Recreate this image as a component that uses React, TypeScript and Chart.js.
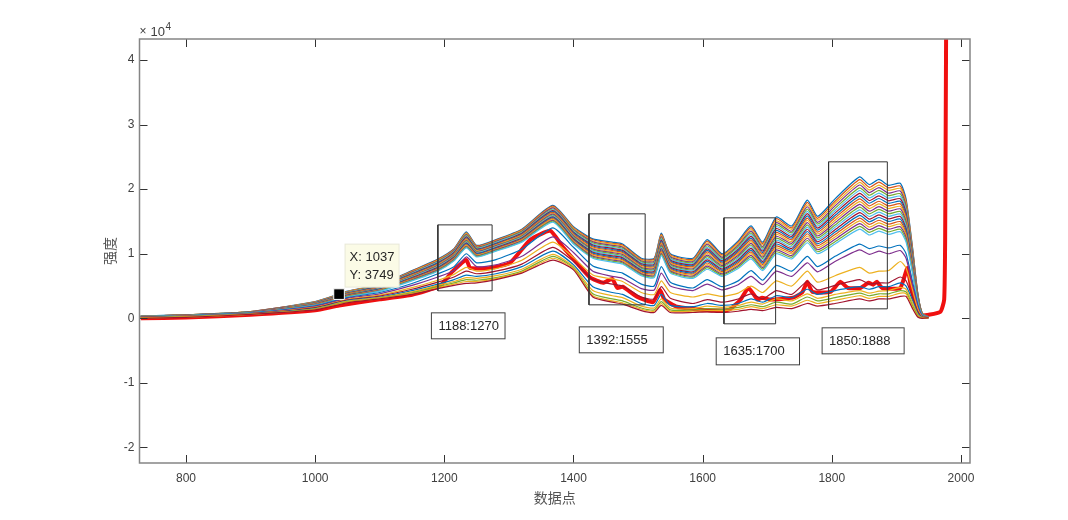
import React, { useEffect, useRef } from "react";
import { Chart, registerables } from "chart.js";

Chart.register(...registerables);

const xTicks = [800, 1000, 1200, 1400, 1600, 1800, 2000];
const yTicks = [-20000, -10000, 0, 10000, 20000, 30000, 40000];

const sampleX = [730,800,900,1000,1050,1100,1150,1190,1215,1234,1250,1280,1320,1368,1400,1430,1460,1476,1505,1525,1536,1550,1585,1607,1630,1655,1675,1693,1714,1738,1762,1778,1805,1843,1858,1873,1888,1906,1915,1925,1933,1940,1950];

// upper, densely packed spectra
const b00 = [350,550,1050,2600,4200,5300,7400,9200,10800,13400,11300,12200,13800,17500,14200,12300,11800,11500,9300,9300,13200,10000,9300,12200,10000,12000,14300,11800,15700,14300,18300,15800,18500,21900,20700,21500,20600,20900,18500,11000,4000,800,200];
const b01 = [345,540,1040,2570,4150,5240,7320,9100,10720,13250,11230,12100,13700,17380,14050,12160,11620,11350,9150,9160,13000,9860,9130,11950,9830,11780,14050,11560,15420,14010,17960,15490,18130,21480,20280,21100,20200,20500,18140,10790,3930,780,200];
const b02 = [340,535,1030,2540,4110,5180,7230,9000,10600,13150,11100,12000,13580,17210,13930,11970,11490,11170,9020,8970,12850,9680,8980,11700,9620,11560,13750,11350,15080,13780,17590,15200,17780,21040,19880,20640,19810,20120,17800,10570,3850,770,190];
const b03 = [335,530,1015,2500,4050,5130,7150,8890,10510,13000,11020,11920,13480,17090,13770,11840,11300,11020,8870,8830,12640,9530,8800,11480,9450,11310,13510,11090,14800,13490,17280,14870,17410,20640,19460,20250,19380,19720,17430,10370,3780,750,190];
const b04 = [330,522,1000,2470,4020,5070,7060,8800,10380,12870,10920,11800,13390,16930,13650,11660,11160,10840,8740,8660,12480,9350,8650,11240,9260,11100,13220,10880,14500,13240,16900,14590,17030,20200,19060,19820,19000,19300,17090,10150,3700,740,190];
const b05 = [325,515,990,2440,3960,5010,6980,8700,10300,12740,10820,11730,13270,16810,13480,11510,10980,10700,8590,8510,12270,9210,8480,10990,9070,10860,12960,10640,14200,12950,16550,14270,16650,19790,18640,19400,18600,18920,16740,9940,3630,720,185];
const b06 = [320,508,975,2410,3920,4950,6900,8600,10190,12610,10730,11620,13170,16680,13350,11360,10820,10520,8440,8350,12100,9040,8320,10750,8900,10650,12700,10410,13900,12700,16220,13970,16290,19340,18240,18970,18200,18530,16380,9730,3560,700,180];
const b07 = [315,500,965,2375,3870,4900,6810,8510,10090,12480,10640,11540,13060,16550,13200,11200,10660,10360,8300,8190,11930,8890,8170,10520,8710,10420,12420,10180,13600,12430,15870,13660,15920,18920,17820,18550,17810,18130,16030,9520,3480,690,180];
const b08 = [310,495,950,2345,3820,4840,6730,8400,10000,12350,10540,11440,12960,16410,13060,11040,10500,10200,8170,8030,11730,8730,8000,10280,8530,10190,12150,9950,13300,12160,15520,13360,15560,18490,17410,18130,17400,17740,15680,9310,3410,670,175];
const b09 = [305,487,940,2310,3770,4780,6650,8300,9900,12210,10450,11350,12850,16270,12920,10880,10330,10030,8020,7880,11540,8580,7830,10040,8340,9970,11880,9720,13000,11890,15180,13060,15190,18060,17000,17710,17000,17340,15330,9100,3330,660,175];
const b10 = [300,480,925,2280,3730,4720,6560,8200,9800,12080,10350,11250,12750,16130,12780,10720,10170,9870,7880,7720,11360,8420,7670,9780,8160,9740,11620,9480,12700,11620,14830,12750,14820,17640,16590,17290,16600,16950,14970,8890,3260,640,170];
const b11 = [295,475,915,2250,3680,4660,6480,8100,9700,11950,10260,11150,12650,15990,12640,10560,10010,9700,7740,7560,11180,8260,7510,9540,7980,9510,11350,9250,12400,11350,14480,12450,14450,17210,16180,16870,16200,16550,14620,8680,3190,630,170];
const b12 = [290,468,900,2215,3630,4600,6390,8000,9600,11820,10170,11060,12540,15860,12490,10400,9840,9540,7590,7410,10990,8100,7350,9300,7790,9290,11080,9020,12100,11080,14130,12140,14090,16790,15770,16450,15800,16160,14270,8470,3110,610,165];
const b13 = [285,460,890,2185,3590,4540,6310,7900,9500,11690,10070,10960,12440,15720,12350,10240,9680,9380,7450,7250,10810,7950,7180,9060,7610,9060,10820,8790,11800,10810,13790,11840,13720,16360,15360,16030,15400,15770,13910,8260,3040,590,165];
const b14 = [280,452,880,2150,3540,4490,6220,7800,9400,11560,9980,10860,12330,15580,12210,10090,9520,9210,7310,7090,10620,7790,7020,8810,7430,8830,10550,8560,11500,10540,13440,11530,13350,15930,14950,15610,15000,15370,13560,8050,2960,580,160];
const b15 = [275,445,865,2120,3490,4430,6140,7700,9300,11420,9880,10770,12230,15440,12070,9930,9360,9050,7170,6930,10440,7630,6860,8570,7240,8610,10280,8320,11200,10270,13090,11230,12980,15510,14540,15190,14600,14980,13200,7840,2890,560,160];
const b16 = [270,440,855,2090,3440,4370,6060,7600,9200,11290,9790,10680,12120,15310,11930,9770,9190,8890,7020,6770,10260,7470,6700,8330,7060,8380,10010,8090,10900,10000,12750,10920,12610,15080,14130,14770,14200,14590,12850,7630,2820,550,155];
const b17 = [265,433,845,2060,3400,4320,5980,7500,9100,11160,9690,10590,12010,15180,11790,9610,9030,8730,6880,6620,10070,7320,6530,8090,6870,8150,9740,7860,10600,9730,12400,10620,12240,14660,13720,14350,13800,14190,12490,7420,2740,530,155];
const b18 = [260,427,840,2030,3350,4260,5890,7400,9000,11030,9600,10490,11910,15040,11650,9450,8870,8560,6740,6460,9890,7160,6370,7850,6690,7930,9470,7630,10300,9470,12050,10310,11870,14230,13310,13930,13400,13790,12140,7210,2670,510,150];
const b19 = [250,420,830,2000,3300,4200,5800,7300,8900,10900,9500,10400,11800,14900,11500,9300,8700,8400,6600,6300,9700,7000,6200,7600,6500,7700,9200,7400,10000,9200,11700,10000,11500,13800,12900,13500,13000,13400,11800,7000,2600,500,150];
const upperBand = [b19,b18,b17,b16,b15,b14,b13,b12,b11,b10,b09,b08,b07,b06,b05,b04,b03,b02,b01,b00];

// lower, widely spaced spectra
const l1 = [230,400,800,1950,3200,4000,5400,6900,8000,10000,8600,9100,10700,14000,11000,8100,7300,7000,5300,5000,8000,5600,4700,6000,4900,5800,7400,5900,8200,7300,9600,8000,9600,11500,10800,11200,10900,11300,10000,5700,2200,400,140];
const l2 = [200,370,770,1850,3100,3800,5100,6400,7400,9500,8000,8300,9600,12600,10200,7300,6500,6200,4600,4400,7000,5000,4300,5300,4400,5200,6500,5200,7300,6500,8600,7200,8800,10600,9900,10400,10000,10500,9300,5200,1900,350,130];
const l3 = [170,340,740,1750,2950,3600,4750,5900,6800,7900,7300,7700,9000,11800,9400,6700,6100,5700,4000,3700,5800,4000,3300,3800,3400,3900,5000,4000,5800,5000,7300,5600,6600,7900,7000,7300,7400,8800,7800,4400,1500,280,120];
const l4 = [140,310,710,1650,2850,3450,4500,5600,6400,7300,6900,7300,8400,11000,8800,6000,5300,5000,3300,3000,4900,3100,2300,2900,2500,3000,3800,3000,4300,3700,5700,4400,5100,6000,5300,5500,5500,6400,5800,3200,1100,200,110];
const l5 = [110,280,680,1550,2750,3300,4300,5300,6000,6700,6500,6900,8000,10400,8300,4900,4000,3700,2300,2000,3700,2000,1800,2300,2000,2300,3000,2500,3500,3200,4500,3700,4300,4900,4500,4900,4900,5500,5000,2800,800,150,100];
const l6 = [80,250,650,1480,2650,3200,4100,5100,5700,6300,6200,6600,7600,9900,8000,4300,3500,3200,1900,1600,3000,1600,1500,1900,1700,2000,2500,2200,3000,2700,3800,3100,3700,4300,3900,4200,4300,4800,4500,2400,600,100,100];
const l7 = [50,220,630,1430,2550,3100,3950,4900,5500,6000,5900,6300,7300,9600,7800,3800,3000,2700,1600,1300,2600,1300,1300,1500,1400,1700,2100,1800,2500,2200,3300,2700,3200,3900,3500,3800,3800,4300,4100,2000,400,60,100];
const l8 = [20,180,610,1370,2480,3050,3820,4750,5300,5700,5700,6150,7150,9300,7650,3500,2700,2400,1400,1100,2300,1100,1100,1200,1200,1400,1800,1500,2100,1900,2800,2300,2800,3500,3100,3400,3400,3900,3800,1700,300,30,100];
const l9 = [0,150,600,1300,2400,3000,3700,4600,5100,5400,5500,6000,7000,9000,7500,3300,2500,2200,1200,900,2000,900,900,1000,900,1100,1400,1200,1700,1500,2300,1900,2300,3000,2700,3000,3000,3400,3400,1500,200,0,100];
const lowerBand = [l9,l8,l7,l6,l5,l4,l3,l2,l1];
const lowerColors = ["#A2142F","#EDB120","#77AC30","#EDB120","#0072BD","#A2142F","#EDB120","#7E2F8E","#0072BD"];

const redX = [730,800,900,1000,1037,1100,1150,1193,1212,1234,1240,1271,1302,1333,1364,1384,1405,1426,1446,1460,1468,1476,1499,1523,1534,1541,1560,1600,1640,1658,1671,1685,1692,1705,1740,1754,1762,1770,1798,1813,1825,1844,1857,1864,1870,1878,1906,1917,1923,1937,1968,1974,1975.5,1977];
const redY = [20,130,560,1250,2000,2950,3650,5000,7200,9050,7800,7800,8600,12150,13550,11000,8600,6300,5500,6100,4700,4900,3300,2500,4400,2900,1800,1300,1300,2800,4700,2900,3200,2900,3200,4000,5650,4100,4100,5650,4700,4700,5500,5200,5650,4700,4700,7800,4700,500,1000,2900,12000,44000];

const marker = { x: 1037, y: 3749 };
const tipLines = ["X: 1037", "Y: 3749"];

const selectX = [[1190,1274],[1424,1511],[1633,1713],[1795,1886]];
const selectY = [[4260,14470],[2090,16180],[-850,15560],[1470,24230]];
const noteText = ["1188:1270","1392:1555","1635:1700","1850:1888"];
const noteX = [[1180,1294],[1409,1539],[1621,1750],[1785,1912]];
const noteY = [[850,-3170],[-1320,-5340],[-3020,-7200],[-1470,-5500]];

const cycle = ["#0072BD","#D95319","#EDB120","#7E2F8E","#77AC30","#4DBEEE","#A2142F"];
const ink = "#404040";
const uiFont = "'Liberation Sans', Arial, sans-serif";

const frame = {
  id: "frame",
  afterDatasetsDraw(chart: any) {
    const { ctx, chartArea: a, scales } = chart;
    const x = scales.x, y = scales.y;
    ctx.save();
    ctx.strokeStyle = "#333";
    ctx.lineWidth = 1;
    for (const v of xTicks) {
      const p = Math.round(x.getPixelForValue(v)) + 0.5;
      ctx.beginPath(); ctx.moveTo(p, a.bottom); ctx.lineTo(p, a.bottom - 8);
      ctx.moveTo(p, a.top); ctx.lineTo(p, a.top + 8); ctx.stroke();
    }
    for (const v of yTicks) {
      const p = Math.round(y.getPixelForValue(v)) + 0.5;
      ctx.beginPath(); ctx.moveTo(a.left, p); ctx.lineTo(a.left + 8, p);
      ctx.moveTo(a.right, p); ctx.lineTo(a.right - 8, p); ctx.stroke();
    }
    ctx.strokeStyle = "#858585";
    ctx.lineWidth = 1.5;
    ctx.strokeRect(a.left, a.top, a.right - a.left, a.bottom - a.top);

    ctx.fillStyle = ink;
    ctx.textBaseline = "middle";
    ctx.textAlign = "left";
    ctx.font = `12px ${uiFont}`;
    ctx.fillText("×", a.left, 32);
    ctx.font = `13px ${uiFont}`;
    ctx.fillText("10", a.left + 11, 32);
    ctx.font = `10px ${uiFont}`;
    ctx.fillText("4", a.left + 26, 27);

    ctx.font = `13px ${uiFont}`;
    noteText.forEach((t, i) => {
      const l = x.getPixelForValue(noteX[i][0]), r = x.getPixelForValue(noteX[i][1]);
      const tp = y.getPixelForValue(noteY[i][0]), b = y.getPixelForValue(noteY[i][1]);
      ctx.fillStyle = "#fff";
      ctx.fillRect(l, tp, r - l, b - tp);
      ctx.strokeStyle = "#404040";
      ctx.lineWidth = 1;
      ctx.strokeRect(l, tp, r - l, b - tp);
      ctx.fillStyle = "#262626";
      ctx.fillText(t, l + 7, (tp + b) / 2 + 0.5);
    });

    const mx = x.getPixelForValue(marker.x), my = y.getPixelForValue(marker.y);
    ctx.fillStyle = "#fbfbe6";
    ctx.fillRect(mx + 6, my - 50, 54, 43);
    ctx.strokeStyle = "#e8e8d8";
    ctx.strokeRect(mx + 6, my - 50, 54, 43);
    ctx.fillStyle = "#262626";
    tipLines.forEach((t, i) => ctx.fillText(t, mx + 10.5, my - 37 + i * 18));
    ctx.restore();
  },
};

export default function App() {
  const ref = useRef<HTMLCanvasElement | null>(null);
  useEffect(() => {
    document.body.style.margin = "0";
    document.body.style.background = "#fff";
    const rects = selectX.map((xr, i) => ({
      type: "line",
      data: [
        { x: xr[0], y: selectY[i][0] }, { x: xr[1], y: selectY[i][0] },
        { x: xr[1], y: selectY[i][1] }, { x: xr[0], y: selectY[i][1] },
        { x: xr[0], y: selectY[i][0] },
      ],
      borderColor: "#333333",
      borderWidth: 1,
      pointRadius: 0,
      tension: 0,
      order: 1,
    }));
    const toLine = (vals: number[], color: string) => ({
      data: vals.map((v, j) => ({ x: sampleX[j], y: v })),
      borderColor: color,
      borderWidth: 1.2,
      pointRadius: 0,
      tension: 0.2,
      order: 5,
    });
    const chart = new Chart(ref.current as HTMLCanvasElement, {
      type: "line",
      data: {
        datasets: [
          {
            data: redX.map((v, j) => ({ x: v, y: redY[j] })),
            borderColor: "#F01010",
            borderWidth: 4,
            pointRadius: 0,
            tension: 0.15,
            order: 6,
          },
          ...lowerBand.map((vals, i) => toLine(vals, lowerColors[i])),
          ...upperBand.map((vals, i) => toLine(vals, cycle[(upperBand.length - 1 - i) % cycle.length])),
          ...rects,
          {
            data: [marker],
            borderColor: "#ffffff",
            backgroundColor: "#000000",
            borderWidth: 1,
            pointStyle: "rect",
            pointRadius: 7.5,
            showLine: false,
            order: 0,
          },
        ] as any,
      },
      options: {
        responsive: false,
        animation: false,
        devicePixelRatio: 1,
        layout: { padding: { left: 0, top: 39, right: 98, bottom: 0 } },
        plugins: { legend: { display: false }, tooltip: { enabled: false } },
        scales: {
          x: {
            type: "linear",
            min: 728,
            max: 2014,
            grid: { display: false, tickLength: 0 },
            border: { display: false },
            afterBuildTicks: (s: any) => { s.ticks = xTicks.map((value) => ({ value })); },
            afterFit: (s: any) => { s.height = 57; },
            ticks: { color: ink, padding: 8, maxRotation: 0, autoSkip: false, font: { family: uiFont, size: 12 }, callback: (v: any) => String(v) },
            title: { display: true, text: "数据点", color: "#555", padding: { top: 0, bottom: 14 }, font: { family: "'Noto Sans CJK SC'", size: 14 } },
          },
          y: {
            type: "linear",
            min: -22400,
            max: 43250,
            grid: { display: false, tickLength: 0 },
            border: { display: false },
            afterBuildTicks: (s: any) => { s.ticks = yTicks.map((value) => ({ value })); },
            afterFit: (s: any) => { s.width = 139.5; },
            ticks: { color: ink, padding: 5, autoSkip: false, font: { family: uiFont, size: 12 }, callback: (v: any) => String(Number(v) / 10000) },
            title: { display: true, text: "强度", color: "#555", padding: { top: 101, bottom: 0 }, font: { family: "'Noto Sans CJK SC'", size: 14 } },
          },
        },
      },
      plugins: [frame],
    } as any);
    return () => chart.destroy();
  }, []);
  return (
    <div style={{ position: "absolute", left: 0, top: 0, width: 1068, height: 520 }}>
      <canvas ref={ref} width={1068} height={520} style={{ display: "block" }} />
    </div>
  );
}
